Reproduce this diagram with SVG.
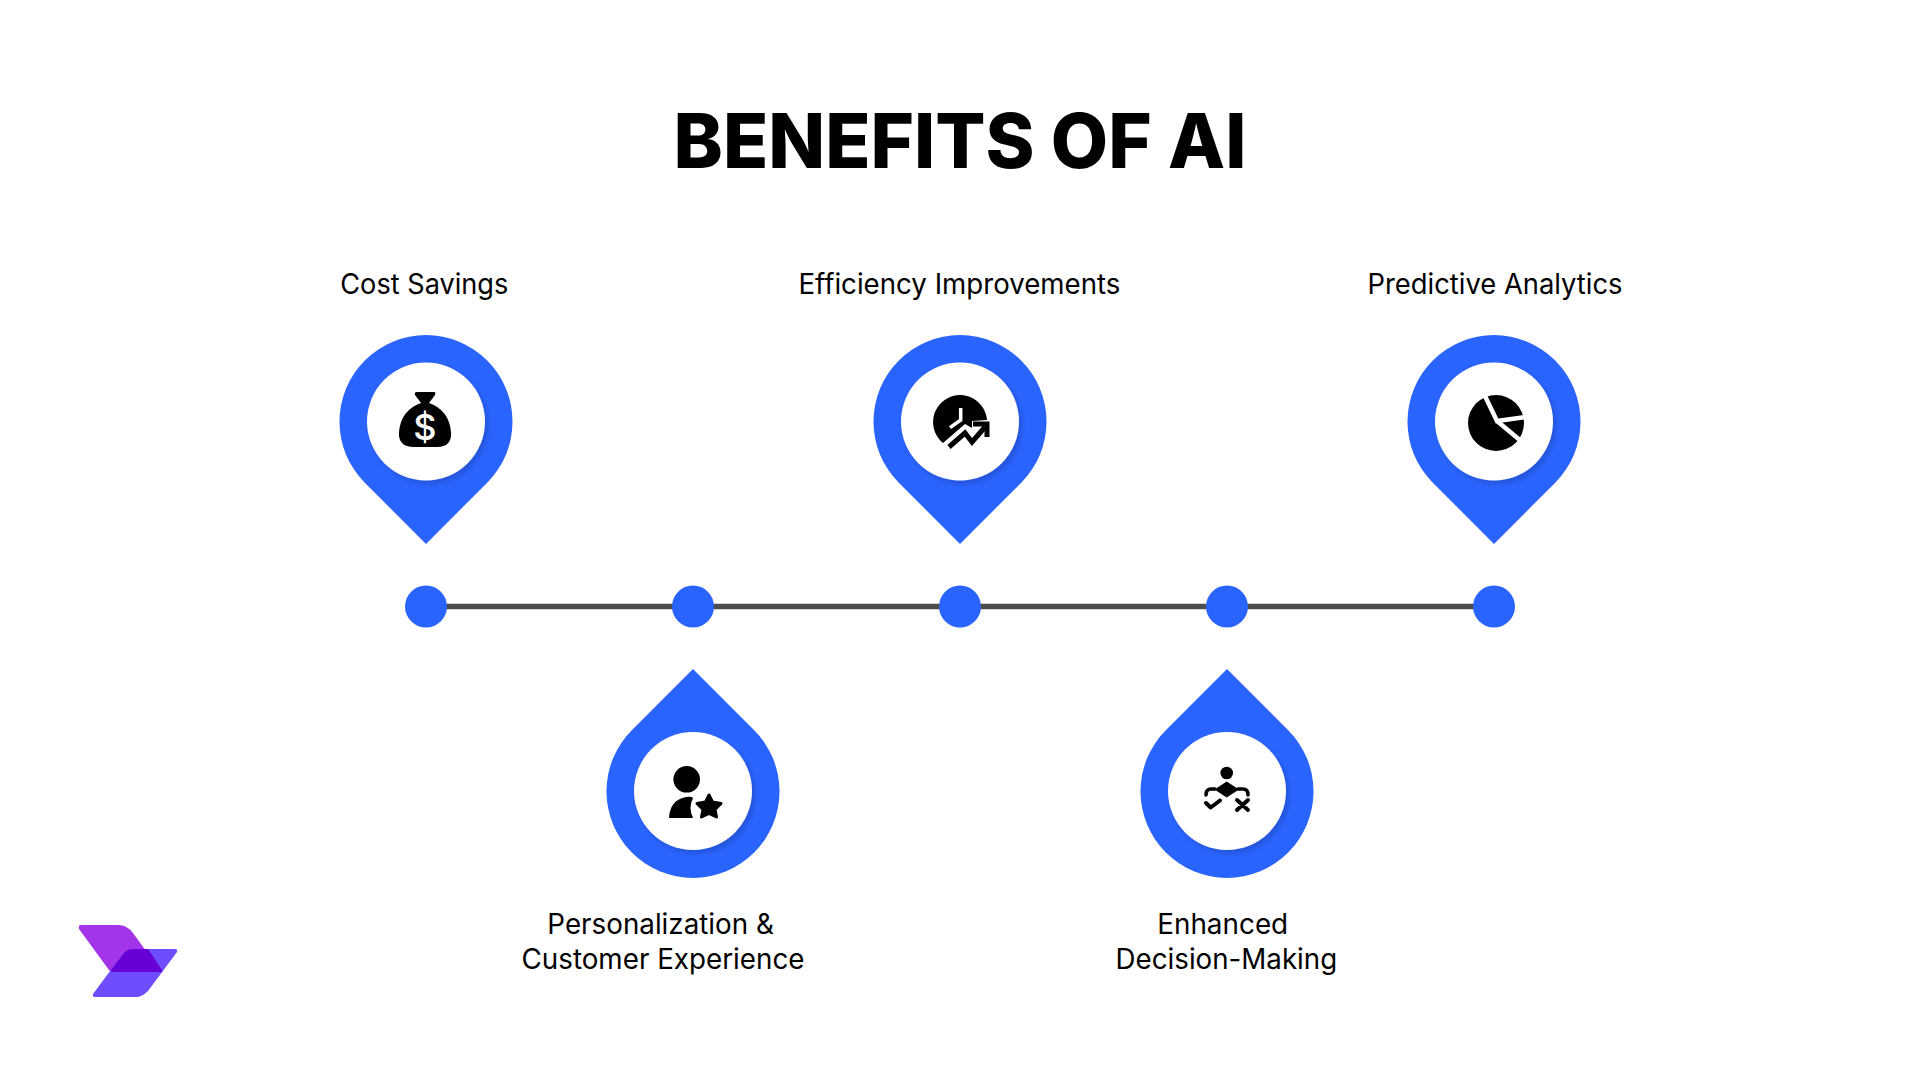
<svg xmlns="http://www.w3.org/2000/svg" width="1920" height="1080" viewBox="0 0 1920 1080">
<defs>
<style>
.lbl{font-family:Inter,"Noto Sans",sans-serif;font-size:28px;fill:#000;text-anchor:middle}
.pin{fill:#2a64ff}
.hole{fill:#fff;filter:url(#sh)}
.dot{fill:#2a64ff}
</style>
<filter id="sh" x="-30%" y="-30%" width="160%" height="160%"><feDropShadow dx="3" dy="3.500" stdDeviation="2.500" flood-color="#000" flood-opacity="0.16"/></filter>
<path id="pinUp" class="pin" d="M-61.200 61.200A86.500 86.500 0 1 1 61.200 61.200L0 122.400Z"/>
<path id="pinDn" class="pin" d="M-61.200 -61.200A86.500 86.500 0 1 0 61.200 -61.200L0 -122.400Z"/>
</defs>
<rect width="1920" height="1080" fill="#fff"/>
<text id="title" x="960" y="168" text-anchor="middle" font-family="Inter,sans-serif" font-weight="800" font-size="76" fill="#000" textLength="573" lengthAdjust="spacingAndGlyphs">BENEFITS OF AI</text>
<g id="connectors"><line x1="426" y1="606.500" x2="1494" y2="606.500" stroke="#4d4d4d" stroke-width="5.500"/></g>
<g id="dots">
<circle class="dot" cx="426" cy="606.500" r="21"/><circle class="dot" cx="693" cy="606.500" r="21"/><circle class="dot" cx="960" cy="606.500" r="21"/><circle class="dot" cx="1227" cy="606.500" r="21"/><circle class="dot" cx="1494" cy="606.500" r="21"/>
</g>
<g id="node-cost">
<text class="lbl" x="424.300" y="294" textLength="168" lengthAdjust="spacingAndGlyphs">Cost Savings</text>
<use href="#pinUp" x="426" y="421.500"/><circle class="hole" cx="426" cy="421.500" r="59"/>
<path d="M417 392H434Q436 392 435 395L429 403Q449 410 451 432Q452 447 437 447H414Q398 447 399 432Q401 410 421 403L415 395Q414 392 417 392Z"/>
<text x="425" y="440" font-family="Inter,sans-serif" font-weight="500" font-size="36" fill="#fff" text-anchor="middle">$</text>
</g>
<g id="node-personalization">
<text class="lbl" x="660.600" y="934" textLength="226.500" lengthAdjust="spacingAndGlyphs">Personalization &amp;</text>
<text class="lbl" x="663" y="969" textLength="283" lengthAdjust="spacingAndGlyphs">Customer Experience</text>
<use href="#pinDn" x="693" y="791.500"/><circle class="hole" cx="693" cy="791" r="59"/>
<circle cx="686.700" cy="779.300" r="13.300"/>
<path d="M669 818Q670 800 686 797Q692 796 693 798Q688 808 693 818Z"/>
<path d="M709 795L712.500 802L721 803.500L715 809.500L716.500 817L709 813.500L701.500 817L703 809.500L697 803.500L705.500 802Z" stroke="#000" stroke-width="3" stroke-linejoin="round"/>
</g>
<g id="node-efficiency">
<text class="lbl" x="959.400" y="294" textLength="322" lengthAdjust="spacingAndGlyphs">Efficiency Improvements</text>
<use href="#pinUp" x="960" y="421.500"/><circle class="hole" cx="960" cy="421.500" r="59"/>
<path d="M943 443A27 27 0 1 1 987 420L972 421L972 428L965 424Z"/>
<path d="M960.700 408V420L950 427.700" fill="none" stroke="#fff" stroke-width="3.500"/>
<path d="M949 447L965 433L972 442L985 427" fill="none" stroke="#000" stroke-width="5"/>
<path d="M973 424H987V437" fill="none" stroke="#000" stroke-width="5"/>
</g>
<g id="node-decision">
<text class="lbl" x="1222.700" y="934" textLength="131" lengthAdjust="spacingAndGlyphs">Enhanced</text>
<text class="lbl" x="1226.400" y="969" textLength="221.600" lengthAdjust="spacingAndGlyphs">Decision-Making</text>
<use href="#pinDn" x="1227" y="791.500"/><circle class="hole" cx="1227" cy="791" r="59"/>
<circle cx="1226.700" cy="773" r="6.300"/>
<path d="M1238 789H1243Q1248 789 1248 795M1215 789H1211Q1206 789 1206 795" fill="none" stroke="#000" stroke-width="3.500" stroke-linecap="round"/>
<path d="M1226.700 781.500L1239 789.500L1226.700 797.500L1214.500 789.500Z"/>
<path d="M1206 803L1210.700 807.500L1220 800.500M1237 800L1248 810M1248 800L1237 810" fill="none" stroke="#000" stroke-width="4" stroke-linecap="round" stroke-linejoin="round"/>
</g>
<g id="node-predictive">
<text class="lbl" x="1495" y="294" textLength="255" lengthAdjust="spacingAndGlyphs">Predictive Analytics</text>
<use href="#pinUp" x="1494" y="421.500"/><circle class="hole" cx="1494" cy="421.500" r="59"/>
<circle cx="1496" cy="423" r="28"/>
<path d="M1484 394L1497 421L1526 417M1497 421L1521 441" fill="none" stroke="#fff" stroke-width="4.500"/>
</g>
<g id="logo">
<path d="M81 925H118Q127 925 133 933L162 973H115Q111 973 109 970L79 929Q78 925 81 925Z" fill="#a434ea"/>
<path d="M127 949H175Q178 949 177 952L148 991Q142 997 136 997H95Q92 997 93 994L122 955Q126 949 134 949Z" fill="#6f4dff"/>
<path d="M111 970L124 953Q127 949 134 949H148L162 970Q163 972 160 972H113Q111 972 111 970Z" fill="#6600d6"/>
</g>
</svg>
